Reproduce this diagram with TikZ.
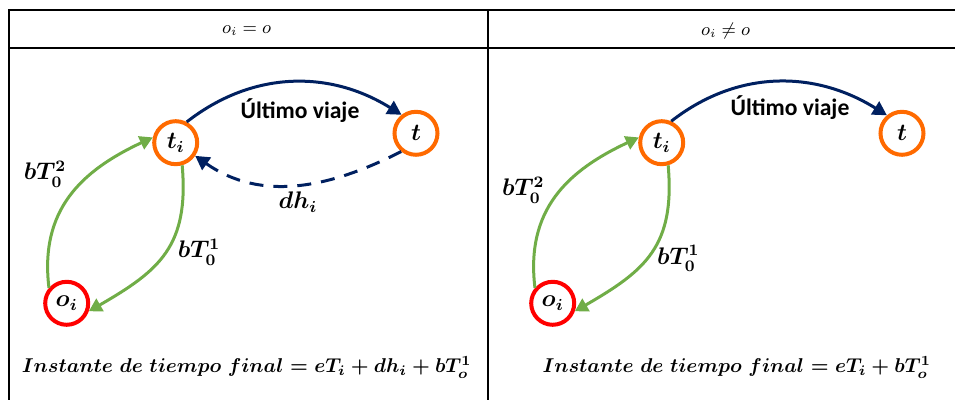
\documentclass[tikz,border=0pt]{standalone}
\usepackage{amsmath}
\usepackage{fontspec}
\setsansfont{Carlito}
\usetikzlibrary{arrows.meta}
\definecolor{navyline}{HTML}{002060}
\definecolor{greenline}{HTML}{70AD47}
\definecolor{orangering}{HTML}{FF6A00}
\definecolor{redring}{HTML}{FF0000}
\tikzset{
  tableline/.style={draw=black, line width=1pt},
  ring/.style={circle, draw=orangering, line width=2pt, minimum size=21.5pt, inner sep=0pt, font=\large},
  originring/.style={ring, draw=redring},
  trip/.style={-{Triangle[length=7pt,width=7.5pt]}, line width=1.5pt, draw=navyline},
  returntrip/.style={trip, dash pattern=on 7pt off 5pt},
  loopline/.style={-{Triangle[length=6.5pt,width=7pt]}, line width=1.5pt, draw=greenline},
  lbl/.style={font=\large, inner sep=1pt},
  triplbl/.style={font=\sffamily\bfseries\fontsize{11.8}{14}\selectfont, inner sep=1pt},
  header/.style={font=\small},
  result/.style={font=\fontsize{9.9}{12}\selectfont}
}

\begin{document}
\begin{tikzpicture}[x=0.5pt, y=0.5pt]
\useasboundingbox (0,0) rectangle (955,400);
\draw[tableline] (955,390) -- (9,390) -- (9,0);
\draw[tableline] (9,352) -- (955,352);
\draw[tableline] (488,390) -- (488,0);
\node[header] (h1) at (246.7,369.3) {$o_i = o$};
\node[header] (h2) at (725.7,369.3) {$o_i \neq o$};

\node[ring] (ti) at (175.7,257.3) {$\boldsymbol{t_i}$};
\node[ring] (t) at (416,266.7) {$\boldsymbol{t}$};
\node[originring] (oi) at (66.7,96.7) {$\boldsymbol{o_i}$};
\draw[trip] (ti.62) to[out=38, in=148] (t.128);
\draw[returntrip] (t.231) to[out=207, in=-35] (ti.-34);
\draw[loopline] (oi.139) to[out=97, in=205, looseness=1.1] (ti.167);
\draw[loopline] (ti.-74) to[out=-85, in=30, looseness=1.2] (oi.-20);
\node[triplbl] (v1) at (300,289) {\'Ultimo viaje};
\node[lbl] (dh1) at (298,198) {$\boldsymbol{dh_i}$};
\node[lbl] (b21) at (45,226) {$\boldsymbol{bT_0^2}$};
\node[lbl] (b11) at (199,148) {$\boldsymbol{bT_0^1}$};
\node[result] (f1) at (246.7,32.3) {$\boldsymbol{Instante\ de\ tiempo\ final = eT_i + dh_i + bT_o^1}$};

\node[ring] (ti2) at (661.7,257.3) {$\boldsymbol{t_i}$};
\node[ring] (t2) at (902,266.7) {$\boldsymbol{t}$};
\node[originring] (oi2) at (552.7,96.7) {$\boldsymbol{o_i}$};
\draw[trip] (ti2.66) to[out=38, in=148] (t2.130);
\draw[loopline] (oi2.139) to[out=97, in=205, looseness=1.1] (ti2.167);
\draw[loopline] (ti2.-74) to[out=-85, in=30, looseness=1.2] (oi2.-20);
\node[triplbl] (v2) at (790,292) {\'Ultimo viaje};
\node[lbl] (b22) at (523.3,210) {$\boldsymbol{bT_0^2}$};
\node[lbl] (b12) at (678.3,141.7) {$\boldsymbol{bT_0^1}$};
\node[result] (f2) at (736.7,32.3) {$\boldsymbol{Instante\ de\ tiempo\ final = eT_i + bT_o^1}$};
\end{tikzpicture}
\end{document}
